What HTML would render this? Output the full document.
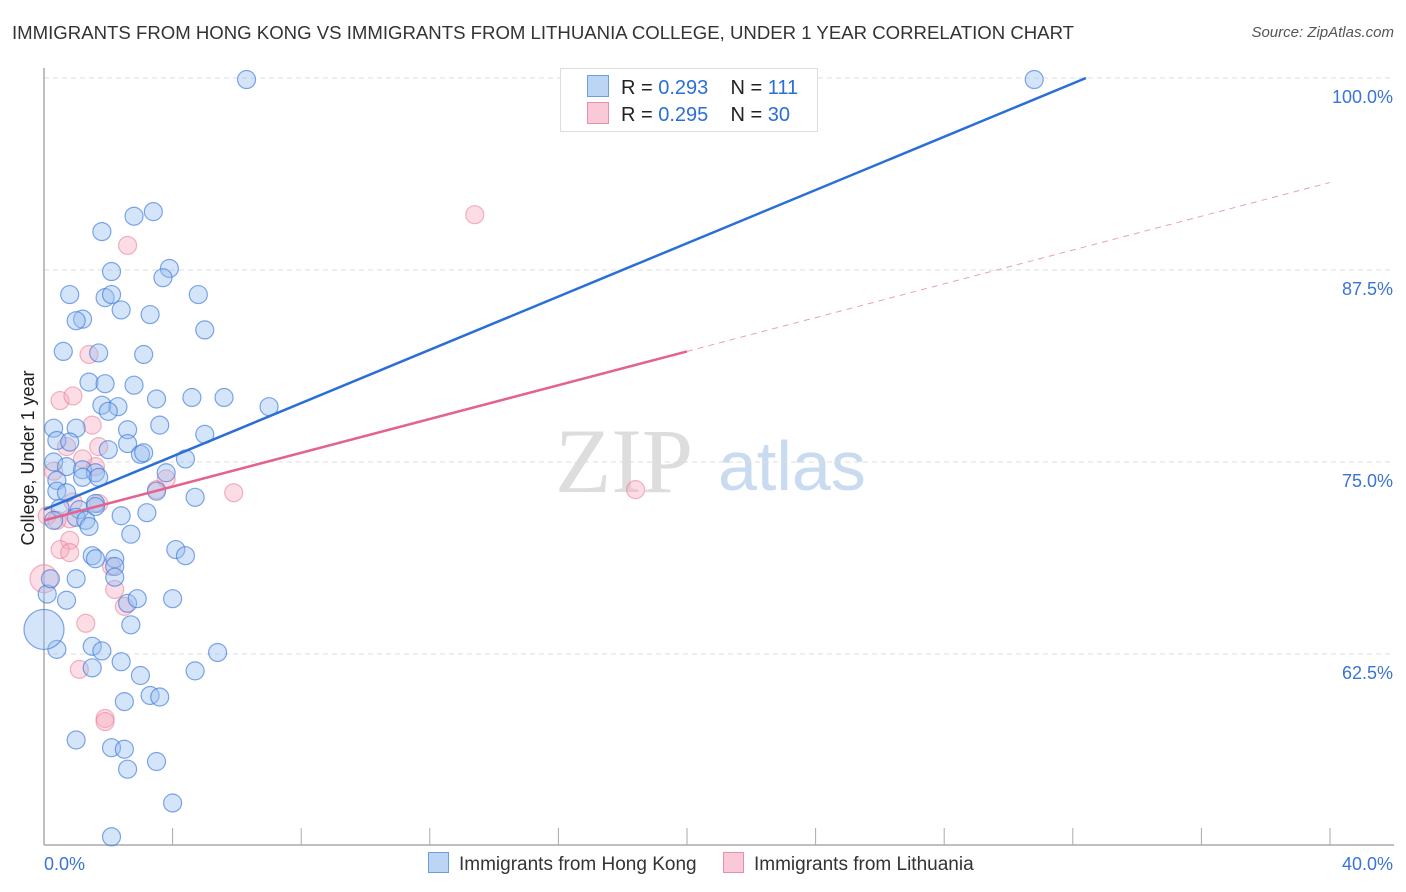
<!DOCTYPE html>
<html><head><meta charset="utf-8"><style>
body{margin:0;background:#fff;font-family:"Liberation Sans",sans-serif;}
#wrap{position:relative;width:1406px;height:892px;overflow:hidden;}
</style></head><body>
<div id="wrap">
<div style="position:absolute;left:12px;top:22px;font-size:18.6px;color:#333;">IMMIGRANTS FROM HONG KONG VS IMMIGRANTS FROM LITHUANIA COLLEGE, UNDER 1 YEAR CORRELATION CHART</div>
<div style="position:absolute;right:12px;top:24px;font-size:15px;color:#555;font-style:italic;">Source: ZipAtlas.com</div>
<svg id="svg" width="1406" height="892" style="position:absolute;left:0;top:0"></svg>
</div>
<script>
const hkX=[6.3,30.8,3.4,2.8,1.8,3.9,2.1,3.7,0.8,1.9,2.1,4.8,2.4,3.3,1.2,1.0,5.0,0.6,1.7,3.1,1.4,1.9,2.8,3.5,4.6,5.6,1.8,2.3,7.0,2.0,0.3,1.0,3.6,5.0,2.6,0.4,0.8,2.6,2.0,3.0,3.1,4.4,0.3,0.7,1.2,1.6,3.8,0.4,1.2,1.7,0.4,0.7,3.5,4.7,1.6,0.5,1.1,1.6,1.0,1.3,2.4,3.2,0.3,1.4,2.7,4.1,4.4,1.5,1.6,2.2,2.2,1.0,2.2,2.6,2.9,4.0,0.7,2.7,5.4,0.4,1.5,1.8,4.7,2.4,1.5,3.0,3.3,3.6,2.5,1.0,2.1,2.5,2.6,3.5,4.0,2.1,0.0,0.1,0.2];
const hkY=[99.9,99.9,91.3,91.0,90.0,87.6,87.4,87.0,85.9,85.7,85.9,85.9,84.9,84.6,84.3,84.2,83.6,82.2,82.1,82.0,80.2,80.1,80.0,79.1,79.2,79.2,78.7,78.6,78.6,78.3,77.2,77.2,77.4,76.8,77.1,76.4,76.3,76.2,75.8,75.5,75.6,75.2,75.0,74.7,74.5,74.3,74.3,73.8,74.0,74.0,73.1,73.0,73.1,72.7,72.3,72.0,71.9,72.1,71.4,71.2,71.5,71.7,71.2,70.8,70.3,69.3,68.9,68.9,68.7,68.7,68.2,67.4,67.5,65.8,66.1,66.1,66.0,64.4,62.6,62.8,63.0,62.7,61.4,62.0,61.6,61.1,59.8,59.7,59.4,56.9,56.4,56.3,55.0,55.5,52.8,50.6,64.1,66.4,67.4];
const ltX=[13.4,2.6,1.4,0.5,0.9,1.5,0.7,1.7,1.6,1.2,0.3,3.8,3.5,5.9,18.4,1.7,0.9,0.1,0.8,0.4,0.8,0.5,0.8,2.1,2.2,2.5,1.3,1.1,1.9,1.9,0.0];
const ltY=[91.1,89.1,82.0,79.0,79.3,77.4,76.0,76.0,74.7,75.2,74.4,73.9,73.2,73.0,73.2,72.3,72.4,71.5,71.3,71.2,69.9,69.3,69.1,68.2,66.7,65.6,64.5,61.5,58.3,58.1,67.4];
const xTicks=[0,40];
const yTicks=[62.5,75,87.5,100];
const hkLine=[71.9,0.867];
const ltLine=[71.2,0.55];
const NS="http://www.w3.org/2000/svg",svg=document.getElementById('svg');
const X=v=>44+v/40*1286, Y=v=>78+(100-v)/12.5*192;
function el(t,a){const e=document.createElementNS(NS,t);for(const k in a)e.setAttribute(k,a[k]);svg.appendChild(e);return e;}
let w=el('text',{x:555,y:492,'font-size':92,fill:'#ddd','font-family':'Liberation Serif, serif'});w.textContent='ZIP';


let w2=el('text',{x:718,y:490,'font-size':70,fill:'#c9dbf0','font-family':'Liberation Sans, sans-serif'});w2.textContent='atlas';


yTicks.forEach(t=>{const g=el('line',{x1:44,x2:1394,y1:Y(t),y2:Y(t),stroke:'#ddd','stroke-dasharray':'5,4'});


const l=el('text',{x:1393,y:Y(t)+25,'text-anchor':'end','font-size':18,fill:'#3b73d6'});l.textContent=t.toFixed(1)+'%';

});
let ax=el('line',{x1:44,x2:44,y1:68,y2:845,stroke:'#aaa','stroke-width':1.5});
let bx=el('line',{x1:44,x2:1394,y1:845,y2:845,stroke:'#aaa','stroke-width':1.5});
for(let i=1;i<=10;i++){const tk=el('line',{x1:X(i*4),x2:X(i*4),y1:828,y2:845,stroke:'#aaa'});}
xTicks.forEach((t,i)=>{const l=el('text',{x:i?1393:44,y:870,'text-anchor':i?'end':'start','font-size':18,fill:'#3b73d6'});l.textContent=t.toFixed(1)+'%';

});
const yt=el('text',{transform:'translate(34,458) rotate(-90)','text-anchor':'middle','font-size':18,fill:'#222'});yt.textContent='College, Under 1 year';


ltX.forEach((x,i)=>{const c=el('circle',{cx:X(x),cy:Y(ltY[i]),r:i==30?14:9,fill:'rgba(248,170,190,0.4)',stroke:'rgba(230,120,150,0.55)','stroke-width':1.2});

});
hkX.forEach((x,i)=>{const c=el('circle',{cx:X(x),cy:Y(hkY[i]),r:i==96?20:9,fill:'rgba(150,190,240,0.4)',stroke:'rgba(60,120,220,0.65)','stroke-width':1.2});

});
const xe=(100-hkLine[0])/hkLine[1];
let bl=el('line',{x1:X(0),y1:Y(hkLine[0]),x2:X(xe),y2:Y(100),stroke:'#2a6fd6','stroke-width':2.5});
let pl=el('line',{x1:X(0),y1:Y(ltLine[0]),x2:X(20),y2:Y(ltLine[0]+20*ltLine[1]),stroke:'#e2638e','stroke-width':2.5});
let pd=el('line',{x1:X(20),y1:Y(ltLine[0]+20*ltLine[1]),x2:X(40),y2:Y(ltLine[0]+40*ltLine[1]),stroke:'#e8a0b8','stroke-width':1,'stroke-dasharray':'6,5'});
</script>
<div style="position:absolute;left:560px;top:68px;width:256px;height:62px;border:1px solid #ddd;background:#fff;font-size:20px;">
<div style="position:absolute;left:26px;top:6px;white-space:pre;color:#222"><span style="display:inline-block;width:20px;height:20px;background:#bcd5f5;border:1px solid #6a9ee0;vertical-align:-3px;margin-right:12px"></span>R = <span style="color:#2a6fd6">0.293</span>    N = <span style="color:#2a6fd6">111</span></div>
<div style="position:absolute;left:26px;top:33px;white-space:pre;color:#222"><span style="display:inline-block;width:20px;height:20px;background:#f9c9d7;border:1px solid #e68fab;vertical-align:-3px;margin-right:12px"></span>R = <span style="color:#2a6fd6">0.295</span>    N = <span style="color:#2a6fd6">30</span></div>
</div>
<div style="position:absolute;left:428px;top:852px;font-size:19px;color:#333;white-space:pre"><span><span style="display:inline-block;width:19px;height:19px;background:#bcd5f5;border:1px solid #6a9ee0;vertical-align:-3px;margin-right:10px"></span>Immigrants from Hong Kong</span>     <span><span style="display:inline-block;width:19px;height:19px;background:#f9c9d7;border:1px solid #e68fab;vertical-align:-3px;margin-right:10px"></span>Immigrants from Lithuania</span></div>
</body></html>
